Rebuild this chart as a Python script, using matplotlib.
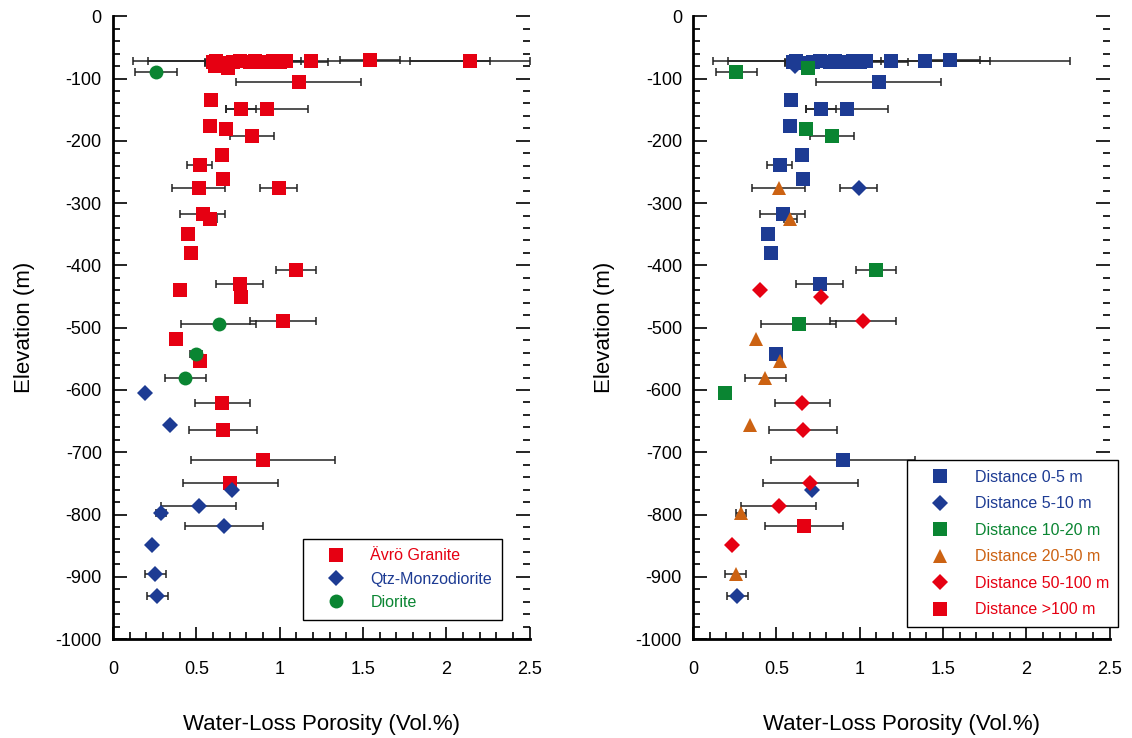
import matplotlib
matplotlib.use("Agg")
import matplotlib.pyplot as plt
from matplotlib.lines import Line2D
from matplotlib.ticker import MultipleLocator, FuncFormatter

plt.rcParams["font.family"] = ["Liberation Sans", "DejaVu Sans"]
plt.rcParams["axes.unicode_minus"] = False

# ---------- Data ----------
# one entry per sample: porosity (vol.%), elevation (m), error half-width,
# rock type code and distance class ('' = not shown in that panel)
porosity = [
    0.60, 0.615, 0.62, 0.65, 0.69, 0.72, 0.76, 0.82, 0.85, 0.88, 0.92, 0.96,
    1.00, 1.04, 1.19, 1.54, 2.14, 1.39,
    1.115, 0.59, 0.77, 0.925, 0.58, 0.68, 0.835, 0.655, 0.52, 0.66, 0.515,
    0.995, 0.54, 0.585, 0.45, 0.47, 1.10, 0.76, 0.40, 0.77, 1.02, 0.38, 0.52,
    0.655, 0.66, 0.90, 0.705,
    0.19, 0.34, 0.717, 0.515, 0.29, 0.665, 0.235, 0.255, 0.265,
    0.26, 0.636, 0.497, 0.435,
]
elevation = [
    -74, -80, -72, -75, -83, -74, -72, -73, -72, -74, -73, -72,
    -73, -72, -72, -71, -72, -72,
    -105, -135, -149, -149, -177, -181, -193, -223, -239, -262, -276,
    -276, -317, -325, -350, -380, -407, -430, -439, -450, -490, -518, -553,
    -621, -665, -713, -750,
    -605, -657, -761, -786, -797, -818, -849, -896, -930,
    -89, -494, -543, -580,
]
error = [
    0.05, 0.0, 0.41, 0.10, 0.0, 0.0, 0.0, 0.0, 0.28, 0.0, 0.0, 0.0,
    0.29, 0.0, 1.07, 0.18, 0.36, 0.39,
    0.375, 0.02, 0.09, 0.245, 0.0, 0.0, 0.13, 0.025, 0.075, 0.0, 0.16,
    0.11, 0.135, 0.04, 0.0, 0.0, 0.12, 0.14, 0.0, 0.0, 0.20, 0.0, 0.0,
    0.165, 0.205, 0.43, 0.285,
    0.0, 0.0, 0.0, 0.225, 0.03, 0.235, 0.0, 0.065, 0.063,
    0.125, 0.225, 0.035, 0.125,
]
rock = (["G"] * 17 + [""]
        + ["G"] * 27
        + ["Q"] * 9
        + ["D"] * 4)
distance = [
    "0-5", "5-10", "0-5", "0-5", "10-20", "0-5", "0-5", "0-5", "0-5", "0-5",
    "0-5", "0-5", "0-5", "0-5", "0-5", "0-5", "", "0-5",
    "0-5", "0-5", "0-5", "0-5", "0-5", "10-20", "10-20", "0-5", "0-5", "0-5",
    "20-50", "5-10", "0-5", "20-50", "0-5", "0-5", "10-20", "0-5", "50-100",
    "50-100", "50-100", "20-50", "20-50", "50-100", "50-100", "0-5", "50-100",
    "10-20", "20-50", "5-10", "50-100", "20-50", ">100", "50-100", "20-50", "5-10",
    "10-20", "10-20", "0-5", "20-50",
]

RED = "#e60012"
BLUE = "#1d3b93"
GREEN = "#0a8532"
ORANGE = "#cc6212"

# code, legend label, marker, size, colour
rock_styles = [
    ("G", "Ävrö Granite", "s", 9.5, RED),
    ("Q", "Qtz-Monzodiorite", "D", 8.0, BLUE),
    ("D", "Diorite", "o", 10.0, GREEN),
]
dist_styles = [
    ("0-5", "Distance 0-5 m", "s", 9.5, BLUE),
    ("5-10", "Distance 5-10 m", "D", 8.0, BLUE),
    ("10-20", "Distance 10-20 m", "s", 9.5, GREEN),
    ("20-50", "Distance 20-50 m", "^", 10.5, ORANGE),
    ("50-100", "Distance 50-100 m", "D", 8.0, RED),
    (">100", "Distance >100 m", "s", 9.5, RED),
]


def draw_panel(ax, groups, styles, legend_anchor, labelspacing):
    # error bars first so the symbols sit on top of them
    for code, _, _, _, _ in styles:
        for x, y, e, g in zip(porosity, elevation, error, groups):
            if g == code and e > 0:
                ax.errorbar(x, y, xerr=e, fmt="none", ecolor="#222222",
                            elinewidth=1.1, capsize=3, capthick=1.1, zorder=2)
    handles = []
    for code, label, marker, size, color in styles:
        xs = [x for x, g in zip(porosity, groups) if g == code]
        ys = [y for y, g in zip(elevation, groups) if g == code]
        ax.plot(xs, ys, linestyle="none", marker=marker, markersize=size,
                color=color, markeredgewidth=0, zorder=3)
        handles.append(Line2D([], [], linestyle="none", marker=marker,
                              markersize=size, color=color,
                              markeredgewidth=0, label=label))

    ax.set_xlim(0, 2.5)
    ax.set_ylim(-1000, 0)
    ax.xaxis.set_major_locator(MultipleLocator(0.5))
    ax.xaxis.set_minor_locator(MultipleLocator(0.1))
    ax.yaxis.set_major_locator(MultipleLocator(100))
    ax.yaxis.set_minor_locator(MultipleLocator(20))
    ax.xaxis.set_major_formatter(FuncFormatter(lambda v, p: f"{v:g}"))
    ax.yaxis.set_major_formatter(FuncFormatter(lambda v, p: f"{v:g}"))

    ax.spines["top"].set_visible(False)
    ax.spines["right"].set_visible(False)
    ax.spines["left"].set_linewidth(2)
    ax.spines["bottom"].set_linewidth(2)
    ax.tick_params(axis="both", which="both", direction="in", color="black",
                   width=1.2, labelsize=13)
    ax.tick_params(axis="x", which="major", length=9, pad=16)
    ax.tick_params(axis="x", which="minor", length=5)
    ax.tick_params(axis="y", which="major", length=10, pad=8, right=True)
    ax.tick_params(axis="y", which="minor", length=5, right=True)

    ax.set_xlabel("Water-Loss Porosity (Vol.%)", fontsize=16, labelpad=26)
    ax.set_ylabel("Elevation (m)", fontsize=16, labelpad=15)

    leg = ax.legend(handles=handles, loc="upper left",
                    bbox_to_anchor=legend_anchor, borderaxespad=0,
                    fontsize=11.5, frameon=True, fancybox=False,
                    edgecolor="black", framealpha=1, handlelength=3.0,
                    handletextpad=0.65, borderpad=0.6,
                    labelspacing=labelspacing)
    leg.get_frame().set_linewidth(1.0)
    leg.set_zorder(5)
    for text, style in zip(leg.get_texts(), styles):
        text.set_color(style[4])


fig = plt.figure(figsize=(11.32, 7.38), dpi=100)
ax_rock = fig.add_axes([0.0998, 0.134, 0.368, 0.844])
ax_dist = fig.add_axes([0.6122, 0.134, 0.368, 0.844])

draw_panel(ax_rock, rock, rock_styles, (0.455, 0.161), 0.52)
draw_panel(ax_dist, distance, dist_styles, (0.513, 0.287), 0.72)

fig.savefig("out.png", dpi=100)
